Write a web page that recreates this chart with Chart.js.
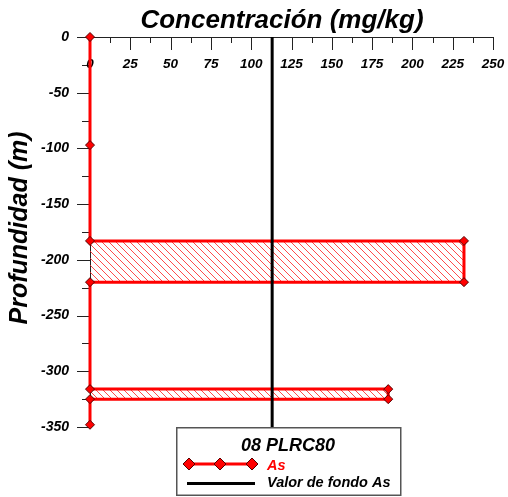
<!DOCTYPE html>
<html>
<head>
<meta charset="utf-8">
<script src="https://cdn.jsdelivr.net/npm/chart.js@4.4.0/dist/chart.umd.min.js"></script>
<style>
    html, body { margin: 0; padding: 0; background: #fff; }
    #wrap { width: 508px; height: 497px; }
</style>
</head>
<body>
<div id="wrap"><canvas id="chart"></canvas></div>
<script>
// As profile: concentration (mg/kg) vs depth (m)
const asConc  = [0, 0, 0, 232, 232, 0, 0, 185, 185, 0, 0];
const asDepth = [0, -97, -183, -183, -220, -220, -316, -316, -325, -325, -348];

// background value line
const fondoConc  = [113, 113];
const fondoDepth = [0, -350];

const xTicks = [0, 25, 50, 75, 100, 125, 150, 175, 200, 225, 250];
const yTicks = [0, -50, -100, -150, -200, -250, -300, -350];

const wellName = '08 PLRC80';
const seriesLabels = ['As', 'Valor de fondo As'];
const xTitle = 'Concentración (mg/kg)';
const yTitle = 'Profundidad (m)';

const FONT = '"Liberation Sans", Arial, sans-serif';
const RED = '#ff0000';

function hatchPattern() {
    const s = 7;
    const c = document.createElement('canvas');
    c.width = s; c.height = s;
    const g = c.getContext('2d');
    g.strokeStyle = 'rgba(255, 30, 30, 0.8)';
    g.lineWidth = 1;
    [-s, 0, s].forEach(o => {
        g.beginPath();
        g.moveTo(0, o);
        g.lineTo(s, o + s);
        g.stroke();
    });
    return document.getElementById('chart').getContext('2d').createPattern(c, 'repeat');
}

const axesPlugin = {
    id: 'axes',
    beforeDatasetsDraw(chart) {
        const { ctx } = chart;
        const xs = chart.scales.x, ys = chart.scales.y;
        const y0 = ys.getPixelForValue(0);
        const x0 = xs.getPixelForValue(0);
        ctx.save();
        ctx.strokeStyle = '#222';
        ctx.lineWidth = 1;
        ctx.beginPath();
        ctx.moveTo(x0, y0 + 0.5);
        ctx.lineTo(xs.getPixelForValue(xTicks[xTicks.length - 1]), y0 + 0.5);
        ctx.moveTo(x0 + 0.5, y0);
        ctx.lineTo(x0 + 0.5, ys.getPixelForValue(yTicks[yTicks.length - 1]));
        // x ticks, major + minor, pointing down
        for (let v = 0; v <= 250; v += 12.5) {
            const px = Math.round(xs.getPixelForValue(v)) + 0.5;
            const len = v % 25 === 0 ? 13 : 6;
            ctx.moveTo(px, y0);
            ctx.lineTo(px, y0 + len);
        }
        // y ticks, pointing left
        for (let v = 0; v >= -350; v -= 25) {
            const py = Math.round(ys.getPixelForValue(v)) + 0.5;
            const len = v % 50 === 0 ? 13 : 8;
            ctx.moveTo(x0, py);
            ctx.lineTo(x0 - len, py);
        }
        ctx.stroke();

        ctx.fillStyle = '#000';
        ctx.font = 'italic bold 13.5px ' + FONT;
        ctx.textAlign = 'center';
        ctx.textBaseline = 'middle';
        xTicks.forEach(v => ctx.fillText(String(v), xs.getPixelForValue(v), y0 + 27.5));

        ctx.font = 'italic bold 14px ' + FONT;
        ctx.textAlign = 'right';
        yTicks.forEach(v => ctx.fillText(String(v), x0 - 21, ys.getPixelForValue(v)));
        ctx.restore();
    },
    afterDraw(chart) {
        const { ctx } = chart;
        ctx.save();
        // titles
        ctx.fillStyle = '#000';
        ctx.font = 'italic bold 26px ' + FONT;
        ctx.textAlign = 'center';
        ctx.textBaseline = 'alphabetic';
        ctx.fillText(xTitle, 282, 28);
        ctx.font = 'italic bold 25px ' + FONT;
        ctx.translate(27, 228);
        ctx.rotate(-Math.PI / 2);
        ctx.fillText(yTitle, 0, 0);
        ctx.restore();

        // legend box
        ctx.save();
        ctx.fillStyle = '#fff';
        ctx.fillRect(177, 428, 224, 67);
        ctx.strokeStyle = '#555';
        ctx.lineWidth = 1.5;
        ctx.strokeRect(176.75, 427.75, 224, 67.5);

        ctx.fillStyle = '#000';
        ctx.font = 'italic bold 18px ' + FONT;
        ctx.textAlign = 'center';
        ctx.fillText(wellName, 288, 451);

        const ds = chart.data.datasets;
        ctx.lineWidth = 3;
        ctx.strokeStyle = ds[0].borderColor;
        ctx.beginPath();
        ctx.moveTo(186, 464);
        ctx.lineTo(253, 464);
        ctx.stroke();
        [189, 220, 252].forEach(x => {
            ctx.beginPath();
            ctx.moveTo(x, 458); ctx.lineTo(x + 6, 464); ctx.lineTo(x, 470); ctx.lineTo(x - 6, 464);
            ctx.closePath();
            ctx.fillStyle = RED;
            ctx.fill();
            ctx.lineWidth = 1;
            ctx.strokeStyle = '#500';
            ctx.stroke();
        });
        ctx.lineWidth = 3;
        ctx.strokeStyle = ds[1].borderColor;
        ctx.beginPath();
        ctx.moveTo(187, 483.5);
        ctx.lineTo(255, 483.5);
        ctx.stroke();

        ctx.textAlign = 'left';
        ctx.font = 'italic bold 14.5px ' + FONT;
        ctx.fillStyle = RED;
        ctx.fillText(ds[0].label, 267, 469.5);
        ctx.fillStyle = '#000';
        ctx.fillText(ds[1].label, 267, 487);
        ctx.restore();
    }
};

new Chart(document.getElementById('chart'), {
    type: 'line',
    data: {
        datasets: [
            {
                label: seriesLabels[0],
                data: asConc.map((c, i) => ({ x: c, y: asDepth[i] })),
                borderColor: RED,
                borderWidth: 3,
                pointStyle: 'rectRot',
                pointRadius: 4.5,
                pointBackgroundColor: RED,
                pointBorderColor: '#500',
                pointBorderWidth: 1,
                fill: 'shape',
                backgroundColor: hatchPattern(),
                tension: 0,
                clip: false,
                order: 2
            },
            {
                label: seriesLabels[1],
                data: fondoConc.map((c, i) => ({ x: c, y: fondoDepth[i] })),
                borderColor: '#000',
                borderWidth: 3,
                pointRadius: 0,
                fill: false,
                clip: false,
                order: 1
            }
        ]
    },
    options: {
        responsive: true,
        maintainAspectRatio: false,
        animation: false,
        layout: { padding: { left: 90, right: 15, top: 37, bottom: 70 } },
        scales: {
            x: { type: 'linear', min: 0, max: 250, display: false },
            y: { type: 'linear', min: -350, max: 0, display: false }
        },
        plugins: {
            legend: { display: false },
            tooltip: { enabled: false }
        }
    },
    plugins: [axesPlugin]
});
</script>
</body>
</html>
